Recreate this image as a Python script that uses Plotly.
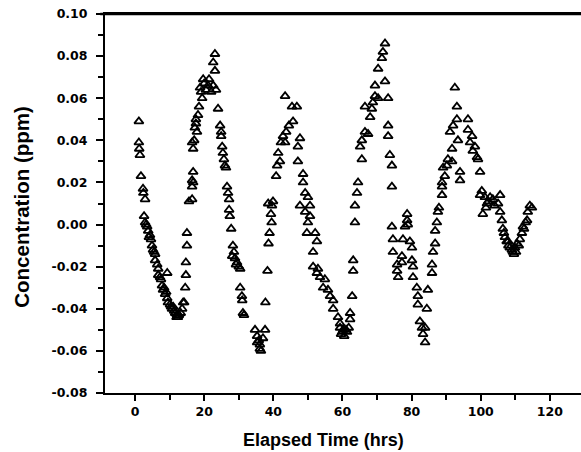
import plotly.graph_objects as go

# Elapsed time (hrs) and concentration (ppm)
elapsed_hrs = [
    1.1, 1.1, 1.2, 1.4, 1.7, 2.3, 2.4, 2.9, 2.6, 2.9, 3.2, 3.5, 3.8, 4.0, 4.3, 4.6, 4.9, 5.2, 5.5, 5.8,
    5.8, 6.4, 6.7, 6.7, 7.2, 7.5, 7.8, 8.1, 8.4, 8.7, 9.0, 9.3, 9.3, 9.5, 10.1, 10.4, 10.7, 11.0, 11.3, 11.6,
    12.0, 12.1, 12.4, 12.7, 13.2, 13.6, 13.9,
    14.2, 14.5, 14.7, 14.7, 15.0, 15.0, 15.6, 16.5, 16.5, 16.5, 16.8, 16.8, 16.8, 16.5, 17.1, 17.3, 17.6, 17.6,
    17.9, 18.2, 18.5, 19.4, 19.1, 18.8, 19.7, 20.0, 20.5, 21.1, 21.4, 22.0, 22.6, 23.4, 23.1, 22.6, 23.1,
    24.0, 24.6, 24.9, 24.9, 25.2, 25.4, 25.7, 26.0, 26.3, 26.6, 26.9, 27.2, 27.2, 27.4, 27.8, 28.3, 28.1, 28.6,
    28.9, 29.5, 29.2, 30.0, 30.4, 30.4, 30.9, 31.0, 31.2, 31.5,
    34.7, 35.3, 35.3, 35.8, 36.1, 36.1, 36.4, 37.0, 37.6, 37.7, 38.3, 38.6, 38.9, 39.5, 39.3, 38.5, 39.6, 39.9,
    40.8, 41.1, 41.9, 41.4, 42.2, 42.8, 43.4, 43.7, 44.5, 45.7, 45.4, 46.8, 43.4, 47.7, 47.1, 47.1,
    48.6, 48.6, 49.2, 50.0, 47.7, 49.2, 50.6, 50.6, 50.0, 49.7, 52.1, 52.6, 51.5, 51.5, 52.9, 52.6, 53.5, 54.9,
    54.4, 55.8, 56.4, 57.3, 57.3, 58.7, 59.3, 59.3, 59.9, 60.2, 59.6, 60.5, 61.0,
    61.3, 61.8, 62.2, 62.2, 62.8, 63.1, 63.1, 63.6, 63.6, 64.2, 64.5, 65.6, 65.1, 65.6, 66.5, 67.4, 68.0, 66.5,
    68.5, 68.8, 69.4, 70.3, 69.4, 70.3, 72.3, 71.4, 71.7, 72.3,
    73.2, 73.2, 73.2, 73.7, 74.3, 74.3, 74.3, 74.6, 74.6, 75.8, 75.8, 76.1, 77.2, 77.2, 77.5, 78.1, 78.7, 78.7,
    78.9, 79.5, 80.1, 80.1, 80.4, 80.4, 81.5, 81.8, 81.8, 82.4, 83.0, 83.3, 83.9,
    83.9, 84.4, 84.7, 85.9, 85.9, 86.2, 86.8, 86.8, 87.3, 87.6, 87.9, 88.8, 88.8, 88.8, 89.6, 89.1, 90.2, 90.5,
    91.7, 91.7, 91.1, 92.0, 93.1, 93.4, 94.0, 94.0, 93.1, 92.5,
    96.3, 96.3, 97.5, 96.9, 98.3, 97.7, 98.9, 99.2, 99.8, 100.3, 99.8, 101.2, 102.7, 101.8, 100.6, 103.5, 105.6,
    105.0, 105.6, 106.1, 106.4, 107.0, 107.9, 108.4, 109.3, 109.9, 110.5, 111.3, 111.9, 112.2, 113.4, 113.6,
    114.2, 114.8, 101.5, 102.2, 104.0, 106.7, 108.0, 109.0, 110.2, 111.0, 112.5, 113.0, 107.5, 109.6,
]
concentration_ppm = [
    0.049, 0.039, 0.036, 0.033, 0.023, 0.017, 0.015, 0.012, 0.004, 0.001, 0.000, -0.001, -0.003, -0.006, -0.005,
    -0.007, -0.010, -0.012, -0.013, -0.014,
    -0.017, -0.019, -0.021, -0.024, -0.025, -0.026, -0.029, -0.031, -0.030, -0.033, -0.032, -0.023, -0.035, -0.037,
    -0.038, -0.039, -0.040, -0.039, -0.041, -0.042,
    -0.044, -0.043, -0.044, -0.043, -0.042, -0.040, -0.037,
    -0.037, -0.030, -0.024, -0.018, -0.010, -0.004, 0.011, 0.012, 0.018, 0.021, 0.025, 0.020, 0.036, 0.039, 0.040,
    0.046, 0.048, 0.050,
    0.044, 0.052, 0.056, 0.060, 0.063, 0.065, 0.069, 0.067, 0.064, 0.066, 0.069, 0.063, 0.066, 0.064, 0.073, 0.077,
    0.081,
    0.055, 0.047, 0.044, 0.042, 0.037, 0.034, 0.031, 0.028, 0.027, 0.018, 0.015, 0.012, 0.007, 0.004, -0.002, -0.010,
    -0.015, -0.013,
    -0.016, -0.018, -0.019, -0.020, -0.021, -0.030, -0.034, -0.036, -0.042, -0.043,
    -0.050, -0.053, -0.056, -0.055, -0.059, -0.057, -0.060, -0.054, -0.050, -0.037, -0.022, -0.009, -0.004, 0.001,
    0.005, 0.010, 0.009, 0.011,
    0.023, 0.028, 0.030, 0.034, 0.039, 0.042, 0.039, 0.044, 0.047, 0.049, 0.056, 0.056, 0.061, 0.041, 0.037, 0.030,
    0.024, 0.020, 0.015, 0.013, 0.009, 0.006, 0.009, 0.004, 0.001, -0.004, -0.004, -0.008, -0.013, -0.020, -0.021,
    -0.023, -0.025, -0.026,
    -0.030, -0.031, -0.034, -0.036, -0.040, -0.044, -0.047, -0.049, -0.051, -0.050, -0.052, -0.053, -0.050,
    -0.051, -0.049, -0.045, -0.042, -0.034, -0.022, -0.017, 0.001, 0.009, 0.015, 0.020, 0.031, 0.037, 0.040, 0.044,
    0.043, 0.051, 0.056,
    0.055, 0.058, 0.061, 0.060, 0.066, 0.074, 0.068, 0.079, 0.082, 0.086,
    0.060, 0.047, 0.042, 0.033, 0.028, 0.018, -0.001, -0.007, -0.013, -0.019, -0.022, -0.025, -0.018, -0.015,
    -0.007, -0.001, 0.005, 0.002,
    0.000, -0.008, -0.011, -0.017, -0.020, -0.025, -0.030, -0.034, -0.038, -0.046, -0.049, -0.052, -0.056,
    -0.049, -0.040, -0.031, -0.023, -0.019, -0.013, -0.009, -0.003, 0.001, 0.006, 0.008, 0.014, 0.018, 0.020,
    0.023, 0.027, 0.028, 0.031,
    0.030, 0.036, 0.044, 0.047, 0.050, 0.040, 0.025, 0.021, 0.056, 0.065,
    0.050, 0.045, 0.042, 0.039, 0.037, 0.035, 0.032, 0.031, 0.025, 0.016, 0.014, 0.013, 0.013, 0.010, 0.005,
    0.012, 0.014,
    0.010, 0.006, 0.002, -0.002, -0.006, -0.008, -0.011, -0.013, -0.011, -0.009, -0.007, -0.004, -0.001, 0.002,
    0.006,
    0.009, 0.008, 0.008, 0.011, 0.009, -0.004, -0.010, -0.012, -0.013, -0.010, -0.002, 0.001, -0.008, -0.014,
]

x_tick_vals = [0, 20, 40, 60, 80, 100, 120]
x_tick_text = ["0", "20", "40", "60", "80", "100", "120"]
x_minor_vals = [10, 30, 50, 70, 90, 110]
y_tick_vals = [-0.08, -0.06, -0.04, -0.02, 0.00, 0.02, 0.04, 0.06, 0.08, 0.10]
y_tick_text = ["-0.08", "-0.06", "-0.04", "-0.02", "0.00", "0.02", "0.04", "0.06", "0.08", "0.10"]
y_minor_vals = [-0.07, -0.05, -0.03, -0.01, 0.01, 0.03, 0.05, 0.07, 0.09]

n = min(len(elapsed_hrs), len(concentration_ppm))

fig = go.Figure()
fig.add_trace(go.Scatter(
    x=elapsed_hrs[:n], y=concentration_ppm[:n], mode="markers",
    marker=dict(symbol="triangle-up-open", size=8, color="black",
                line=dict(color="black", width=1.8)),
    showlegend=False, cliponaxis=False, hoverinfo="skip",
))

tick_font = dict(family="DejaVu Sans", size=12.5, color="black", weight="bold")

fig.update_layout(
    width=581, height=452,
    margin=dict(l=105, r=0, t=14, b=59),
    plot_bgcolor="white", paper_bgcolor="white",
    xaxis=dict(
        range=[-8.7, 129], showgrid=False, zeroline=False,
        showline=True, linecolor="black", linewidth=2, mirror=True,
        tickmode="array", tickvals=x_tick_vals, ticktext=x_tick_text,
        ticks="outside", ticklen=6, tickwidth=1.5, tickcolor="black",
        tickfont=tick_font,
        minor=dict(tickmode="array", tickvals=x_minor_vals, ticks="outside",
                   ticklen=5, tickwidth=1.5, tickcolor="black"),
    ),
    yaxis=dict(
        range=[-0.08, 0.10], showgrid=False, zeroline=False,
        showline=True, linecolor="black", linewidth=2,
        tickmode="array", tickvals=y_tick_vals, ticktext=y_tick_text,
        ticks="outside", ticklen=7, tickwidth=1.5, tickcolor="black",
        tickfont=tick_font, ticklabelstandoff=6,
        minor=dict(tickmode="array", tickvals=y_minor_vals, ticks="outside",
                   ticklen=5, tickwidth=1.5, tickcolor="black"),
    ),
    shapes=[
        dict(type="line", xref="paper", yref="paper", x0=-0.01, x1=1, y0=1, y1=1,
             line=dict(color="black", width=2.5)),
    ],
    annotations=[
        dict(text="Elapsed Time (hrs)", xref="paper", yref="paper",
             x=0.46, y=-0.125, xanchor="center", yanchor="middle", showarrow=False,
             font=dict(family="Liberation Sans", size=18, color="black", weight="bold")),
        dict(text="Concentration (ppm)", xref="paper", yref="paper",
             x=-0.176, y=0.492, xanchor="center", yanchor="middle", showarrow=False,
             textangle=-90,
             font=dict(family="Liberation Sans", size=20.5, color="black", weight="bold")),
    ],
)

fig.write_html("out.html", config={"displayModeBar": False},
               post_script="document.body.style.margin='0';document.body.style.overflow='hidden';")
